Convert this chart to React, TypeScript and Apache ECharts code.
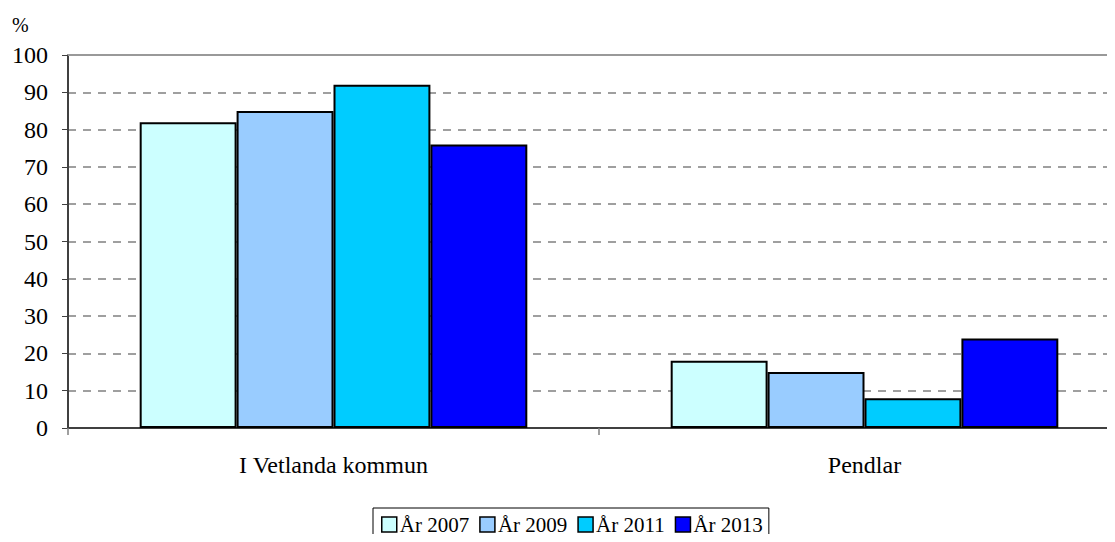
import React, { useEffect, useRef } from "react";
import * as echarts from "echarts";

const categories = ["I Vetlanda kommun", "Pendlar"];
const seriesNames = ["År 2007", "År 2009", "År 2011", "År 2013"];
const values2007 = [82, 18];
const values2009 = [85, 15];
const values2011 = [92, 8];
const values2013 = [76, 24];
const colors = ["#CCFFFF", "#99CCFF", "#00CCFF", "#0000FF"];

export default function App() {
  const ref = useRef<HTMLDivElement>(null);
  useEffect(() => {
    if (!ref.current) return;
    const chart = echarts.init(ref.current, null, { renderer: "svg" });
    const font = "Liberation Serif";
    const allValues = [values2007, values2009, values2011, values2013];
    chart.setOption({
      animation: false,
      textStyle: { fontFamily: font },
      grid: { left: 68, width: 1062, top: 55, height: 373, containLabel: false },
      legend: {
        left: 373,
        top: 508,
        itemWidth: 15,
        itemHeight: 15,
        itemGap: 10,
        icon: "rect",
        borderColor: "#000",
        borderWidth: 1,
        padding: [6, 6, 10, 8],
        textStyle: { fontFamily: font, fontSize: 21, color: "#000", padding: [0, 0, 0, -2] },
        data: seriesNames.map((n) => ({ name: n, itemStyle: { borderColor: "#000", borderWidth: 1.5 } })),
      },
      xAxis: [
        {
          type: "category",
          data: categories,
          axisLine: { lineStyle: { color: "#404040", width: 2 } },
          axisTick: { show: true, length: 7, lineStyle: { color: "#808080", width: 1.5 } },
          axisLabel: { color: "#000", fontSize: 24, fontFamily: font, margin: 25 },
        },
        {
          type: "category",
          position: "top",
          data: categories,
          axisLine: { show: true, lineStyle: { color: "#999", width: 2 } },
          axisTick: { show: false },
          axisLabel: { show: false },
        },
      ],
      yAxis: {
        type: "value",
        min: 0,
        max: 100,
        interval: 10,
        name: "%",
        nameLocation: "end",
        nameGap: 20,
        nameTextStyle: { color: "#000", fontSize: 20, fontFamily: font, align: "left", padding: [0, 0, 0, -56] },
        axisLine: { show: true, lineStyle: { color: "#404040", width: 2 } },
        axisTick: { show: true, length: 6, lineStyle: { color: "#404040", width: 1 } },
        axisLabel: { color: "#000", fontSize: 24, fontFamily: font, margin: 20 },
        splitLine: { show: true, lineStyle: { color: "#808080", type: [8, 7], width: 1.5 } },
      },
      series: seriesNames.map((name, i) => ({
        name,
        type: "bar",
        data: allValues[i],
        barGap: "0%",
        barCategoryGap: "27%",
        itemStyle: { color: colors[i], borderColor: "#000", borderWidth: 2 },
      })),
    });
    return () => chart.dispose();
  }, []);
  return (
    <div style={{ width: 1115, height: 542, margin: -8, overflow: "hidden" }}>
      <div ref={ref} style={{ width: 1130, height: 542 }} />
    </div>
  );
}
